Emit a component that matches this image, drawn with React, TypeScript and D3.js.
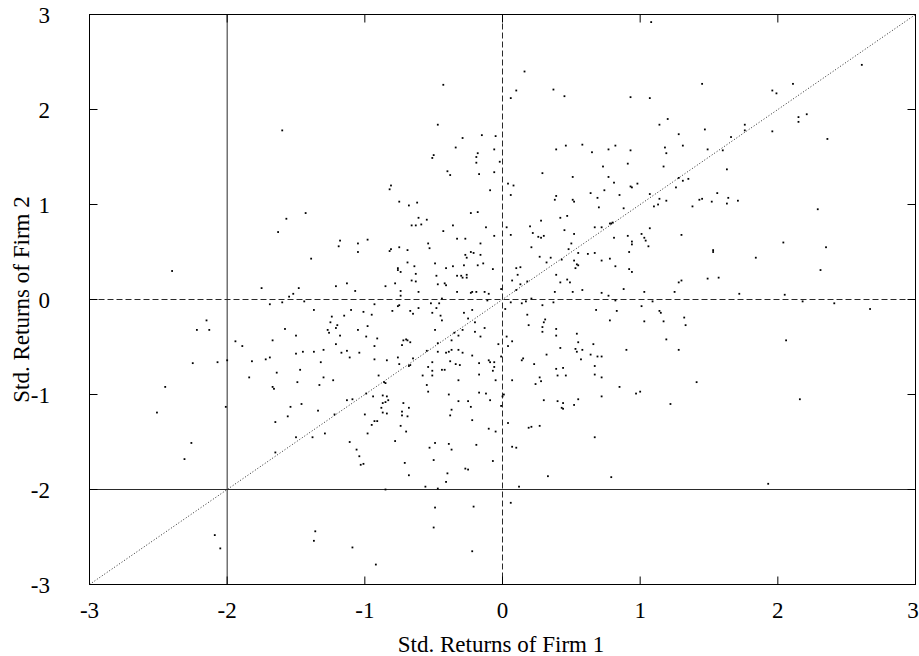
import React from 'react';
import * as d3 from 'd3';

const W = 919;
const H = 656;

const tickValues = [-3, -2, -1, 0, 1, 2, 3];
const tickLabels = ['-3', '-2', '-1', '0', '1', '2', '3'];
const xTitle = 'Std. Returns of Firm 1';
const yTitle = 'Std. Returns of Firm 2';
const thresholdLevel = -2;
const zeroLevel = 0;

// Standardised returns, firm 1 (x) and firm 2 (y)
const firm1 = [
  -1.60,
  -0.43, 0.16, 0.10, 0.06, 0.37, 0.45, 0.93, -0.47, -0.29, -0.15, -0.05, -0.34, -0.06, -0.18, -0.50, -0.51, -0.19, -0.19, -0.02, -0.40,
  -0.38, -0.17, -0.06, -0.09, -0.81, -0.82, -0.75, -0.68, -0.62, 0.04, 0.08, 0.06, 0.29, 0.39, 0.46, 0.58, 0.65, 0.77, 0.82, 0.93,
  0.51, 0.73, 0.77, 0.91, 0.81, 0.98, 0.93, 0.94, 0.74, 0.64, 0.69, 0.85, 0.39, 0.38, 0.51, 0.52,
  1.08, 2.61, 1.45, 2.11, 1.96, 1.99, 1.07, 2.21, 2.15, 2.15, 1.20, 1.14, 1.76, 1.76, 1.47, 1.96, 1.28, 1.66, 2.36, 1.18,
  1.19, 1.31, 1.49, 1.60, 1.17, 1.63, 1.28, 1.35, 1.31, 1.26, 1.07, 1.14, 1.19, 1.43, 1.45, 1.56, 1.64, 1.52, 1.71, 1.63, 1.13,
  -2.40, -1.57, -1.43, -1.63, -1.18, -1.19, -0.98, -1.05, -1.05, -1.39, -1.75, -1.48, -1.52, -1.55, -1.21, -1.13, -1.07, -1.69, -1.60, -1.44,
  -1.37, -1.10, -1.01, -1.24, -1.15, -1.25, -1.20, -1.21, -1.27, -1.26, -1.05, -0.98, -0.99, -1.18, -1.58, -1.50, -2.15, -2.22, -2.13, -1.94,
  -1.89, -1.67, -1.21, -1.30, -1.13, -1.17, -1.04, -1.11, -1.45, -1.37, -1.50, -1.69, -1.72, -1.82, -1.32, -2.00, -2.07, -2.25, -1.47, -1.64,
  -1.84, -1.30, -1.23, -1.49, -1.33, -1.67, -1.66, -2.45, -0.99,
  -0.61, -0.55, -0.66, -0.63, -0.59, -0.43, -0.36, -0.23, -0.18, -0.12, -0.06, -0.33, -0.27, -0.54, -0.53, -0.16, -0.75, -0.81, -0.82, -0.69,
  -0.23, -0.21, -0.27, -0.16, -0.26, -0.69, -0.49, -0.14, -0.18, -0.28, -0.36, -0.41, -0.64, -0.76, -0.76, -0.74, -0.63, -0.07, -0.48, -0.33,
  -0.30, -0.29, -0.26, -0.26, -0.66, -0.63, -0.42, -0.41, -0.47, -0.78, -0.85, -0.74, -0.74, -0.61, -0.33, -0.23, -0.22, -0.19, -0.13, -0.10,
  -0.01, -0.44, -0.11, -0.93, -0.76, -0.75, -0.52, -0.46, -0.61, -0.48, -0.80, -0.67, -0.65, -0.51, -0.22, -0.28, -0.45, -0.95, -0.25, -0.44,
  -0.49, -0.20, -0.13, -0.20, -0.29, -0.91, -0.70, -0.69, -0.67, -0.72, -0.35, -0.32, -0.16, -0.93, -0.73, -0.37, -0.47, -0.55, -0.47, -0.39,
  -0.37, -0.32, -0.29, -0.41, -0.22, -0.65, -0.76, -0.93, -0.84, -0.51, -0.38, -0.34, -0.31, -0.17, -0.10, -0.09, -0.06, -0.67, -0.75, -0.68,
  -0.54, -0.42, -0.44, -0.51, -0.06, -0.07, -0.58, -0.51, -0.17, -0.90, -0.86, -0.85, -0.32, -0.05, -0.55, -0.54, -0.39, -0.17, -0.12, 0.02,
  -0.01, -0.03, 0.01,
  0.03, 0.06, 0.20, 0.22, 0.28, 0.26, 0.28, 0.30, 0.42, 0.47, 0.45, 0.52, 0.70, 0.88, 0.67, 0.72, 0.78, 0.79, 0.80, 0.81,
  0.91, 1.01, 0.94, 0.94, 1.03, 0.21, 0.50, 0.48, 0.55, 0.62, 0.67, 0.72, 0.92, 0.27, 0.35, 0.32, 0.43, 0.52, 0.54, 0.53,
  0.55, 0.82, 0.78, 0.92, 0.94, 0.10, 0.13, 0.11, 0.07, 0.18, 0.13, 0.10, 0.39, 0.42, 0.47, 0.49, 0.58, 0.51, 0.38, 0.72,
  0.77, 0.88, 0.82, 1.03, 0.14, 0.17, 0.21, 0.29, 0.37, 0.06, 0.18, 0.31, 0.30, 0.68, 0.83, 0.78, 1.01, 1.03, 0.19, 0.29,
  0.29, 0.39, 0.39, 0.54, 0.55, 0.03, 0.07, 0.04, 0.42, 0.53, 0.54, 0.58, 0.66, 0.64, 0.69, 0.72, 0.90, 0.32, 0.57, 0.15,
  0.14, 0.23, 0.67, 0.39, 0.44, 0.40, 0.46, 0.67, 0.72, 0.27, 0.28, 0.24, 0.07, 0.85, 1.00,
  1.10, 1.38, 2.29, 1.07, 1.04, 1.06, 1.30, 1.53, 1.53, 2.04, 2.35, 1.84, 2.31, 1.28, 1.30, 1.49, 1.57, 1.25, 1.72, 2.05,
  1.09, 2.18, 2.41, 2.67, 1.14, 1.15, 1.32, 1.17, 1.33, 1.19, 2.06, 1.28, 1.41,
  -2.51, -2.01, -2.26, -2.31, -2.09, -2.05, -1.54, -1.46, -1.56, -1.34, -1.65, -1.13, -1.09, -1.22, -1.00, -1.50, -1.38, -1.29, -0.98, -1.11,
  -1.06, -1.04, -1.03, -1.01, -1.65, -1.36, -1.37, -1.09,
  -0.94, -0.87, -0.84, -0.87, -0.85, -0.83, -0.88, -0.87, -0.84, -0.93, -0.91, -0.95, -0.72, -0.68, -0.73, -0.73, -0.69, -0.74, -0.70, -0.78,
  -0.32, -0.25, -0.09, -0.37, -0.23, -0.38, -0.22, -0.10, -0.05, -0.01, 0.00, -0.49, -0.53, -0.39, -0.37, -0.19, -0.71, -0.50, -0.68, -0.40,
  -0.41, -0.27, -0.25, -0.07, -0.56, -0.47, -0.85, -0.49, -0.21, -0.50, -0.22, -0.92, 0.04, 0.07, 0.10, 0.12, 0.06, 0.19, 0.21, 0.27,
  0.30, 0.40, 0.44, 0.43, 0.44, 0.52, 0.55, 0.72, 0.97, 0.67, 0.33, 0.79,
  1.22, 2.16, 1.93,
];

const firm2 = [
  1.78,
  2.26, 2.40, 2.20, 2.12, 2.21, 2.14, 2.13, 1.84, 1.70, 1.73, 1.72, 1.60, 1.58, 1.54, 1.52, 1.49, 1.50, 1.44, 1.45, 1.35,
  1.31, 1.32, 1.34, 1.15, 1.20, 1.16, 1.03, 0.99, 1.02, 1.22, 1.20, 1.10, 1.33, 1.58, 1.62, 1.63, 1.55, 1.58, 1.62, 1.57,
  1.29, 1.40, 1.29, 1.43, 1.23, 1.22, 1.19, 1.18, 1.15, 1.12, 1.07, 1.10, 1.09, 1.05, 1.05, 1.03,
  2.92, 2.47, 2.27, 2.27, 2.20, 2.17, 2.12, 1.95, 1.92, 1.87, 1.90, 1.84, 1.84, 1.78, 1.79, 1.77, 1.74, 1.71, 1.69, 1.60,
  1.54, 1.62, 1.58, 1.57, 1.40, 1.37, 1.28, 1.27, 1.25, 1.18, 1.11, 1.06, 1.04, 1.05, 1.06, 1.12, 1.07, 1.03, 1.04, 1.01, 1.00,
  0.30, 0.85, 0.91, 0.71, 0.62, 0.56, 0.63, 0.59, 0.50, 0.43, 0.12, 0.12, 0.06, 0.03, 0.14, 0.17, 0.09, -0.05, -0.03, -0.02,
  -0.11, -0.11, -0.13, -0.18, -0.17, -0.24, -0.27, -0.30, -0.32, -0.35, -0.32, -0.28, -0.39, -0.38, -0.31, -0.38, -0.22, -0.32, -0.32, -0.44,
  -0.49, -0.43, -0.47, -0.53, -0.54, -0.56, -0.56, -0.61, -0.55, -0.55, -0.57, -0.61, -0.63, -0.65, -0.66, -0.64, -0.66, -0.67, -0.74, -0.77,
  -0.82, -0.82, -0.85, -0.87, -0.90, -0.92, -0.94, -0.92, -0.99,
  0.86, 0.84, 0.78, 0.78, 0.79, 0.72, 0.78, 0.91, 0.92, 0.76, 0.67, 0.64, 0.64, 0.59, 0.54, 0.59, 0.55, 0.53, 0.51, 0.52,
  0.50, 0.49, 0.47, 0.47, 0.44, 0.39, 0.38, 0.38, 0.36, 0.36, 0.35, 0.33, 0.35, 0.33, 0.31, 0.29, 0.27, 0.32, 0.25, 0.25,
  0.25, 0.23, 0.26, 0.23, 0.20, 0.19, 0.17, 0.15, 0.16, 0.17, 0.14, 0.09, 0.04, 0.08, 0.08, 0.07, 0.08, 0.08, 0.08, 0.06,
  0.11, 0.01, -0.01, -0.05, -0.07, -0.06, -0.04, -0.04, -0.09, -0.09, -0.12, -0.12, -0.15, -0.14, -0.11, -0.14, -0.17, -0.16, -0.20, -0.22,
  -0.32, -0.24, -0.30, -0.34, -0.32, -0.41, -0.42, -0.43, -0.45, -0.43, -0.35, -0.38, -0.39, -0.49, -0.48, -0.43, -0.46, -0.54, -0.55, -0.55,
  -0.53, -0.53, -0.56, -0.56, -0.59, -0.62, -0.61, -0.63, -0.64, -0.66, -0.65, -0.68, -0.69, -0.67, -0.64, -0.66, -0.66, -0.69, -0.68, -0.70,
  -0.71, -0.74, -0.74, -0.75, -0.71, -0.75, -0.80, -0.80, -0.79, -0.80, -0.87, -0.88, -0.85, -0.85, -0.90, -0.97, -1.00, -0.98, -0.99, -0.10,
  -0.60, -0.47, -1.00,
  0.76, 0.68, 0.77, 0.70, 0.83, 0.66, 0.65, 0.67, 0.86, 0.88, 0.73, 0.69, 0.97, 0.96, 0.76, 0.76, 0.80, 0.80, 0.81, 0.65,
  0.67, 0.69, 0.61, 0.58, 0.65, 0.55, 0.59, 0.53, 0.49, 0.48, 0.49, 0.41, 0.50, 0.45, 0.44, 0.39, 0.42, 0.41, 0.37, 0.33,
  0.36, 0.35, 0.43, 0.32, 0.29, 0.33, 0.34, 0.26, 0.20, 0.19, 0.16, 0.10, 0.26, 0.18, 0.21, 0.18, 0.10, 0.08, 0.08, 0.07,
  0.04, 0.11, -0.01, 0.08, -0.04, -0.02, 0.01, -0.06, -0.03, -0.03, -0.16, -0.21, -0.24, -0.11, -0.12, -0.22, -0.07, -0.23, -0.27, -0.29,
  -0.34, -0.31, -0.38, -0.36, -0.45, -0.39, -0.44, -0.49, -0.51, -0.52, -0.55, -0.53, -0.47, -0.58, -0.60, -0.60, -0.53, -0.58, -0.63, -0.62,
  -0.64, -0.68, -0.70, -0.73, -0.72, -0.80, -0.80, -0.79, -0.82, -0.82, -0.86, -0.89, -0.85, -0.92, -0.97,
  0.98, 0.98, 0.95, 0.75, 0.62, 0.56, 0.68, 0.52, 0.50, 0.60, 0.55, 0.44, 0.31, 0.18, 0.20, 0.22, 0.23, 0.08, 0.06, 0.05,
  -0.02, -0.02, -0.04, -0.10, -0.12, -0.14, -0.19, -0.23, -0.27, -0.42, -0.43, -0.53, -0.87,
  -1.19, -1.13, -1.51, -1.68, -2.48, -2.62, -1.13, -1.10, -1.23, -1.17, -1.29, -1.06, -1.05, -1.21, -1.21, -1.45, -1.45, -1.41, -1.41, -1.50,
  -1.58, -1.65, -1.74, -1.73, -1.61, -2.44, -2.54, -2.61,
  -1.02, -1.01, -1.02, -1.09, -1.08, -1.06, -1.14, -1.19, -1.20, -1.28, -1.28, -1.32, -1.09, -1.14, -1.18, -1.22, -1.23, -1.33, -1.39, -1.49,
  -1.07, -1.07, -1.06, -1.16, -1.13, -1.22, -1.27, -1.36, -1.39, -1.12, -1.02, -1.51, -1.56, -1.52, -1.58, -1.53, -1.72, -1.69, -1.85, -1.83,
  -1.92, -1.78, -1.79, -1.70, -1.97, -1.99, -2.00, -2.19, -2.18, -2.40, -2.65, -2.79, -1.30, -1.55, -1.56, -1.97, -2.14, -1.35, -1.34, -1.33,
  -1.06, -1.07, -1.09, -1.14, -1.15, -1.11, -1.05, -1.02, -0.99, -1.45, -1.86, -1.87,
  -1.10, -1.05, -1.94,
];

const FONT = "'Liberation Serif', 'Times New Roman', Times, serif";
const LINE = '#2a2a2a';

export default function App() {
  const x = d3.scaleLinear().domain([-3, 3]).range([89.5, 915.5]);
  const y = d3.scaleLinear().domain([-3, 3]).range([584.5, 14.5]);
  const [x0, x1] = x.range();
  const [y0, y1] = y.range();
  const tickLen = 8;
  const n = Math.min(firm1.length, firm2.length);
  const pts = d3.range(n).map((i) => [firm1[i], firm2[i]] as [number, number]);
  const diag = d3.line<[number, number]>()
    .x((d) => x(d[0]))
    .y((d) => y(d[1]))([[-3, -3], [3, 3]]) as string;

  return (
    <svg
      width={W}
      height={H}
      viewBox={`0 0 ${W} ${H}`}
      style={{ position: 'absolute', left: 0, top: 0, background: '#fff' }}
      fontFamily={FONT}
    >
      <rect x={0} y={0} width={W} height={H} fill="#fff" />

      {/* reference lines */}
      <line x1={x(thresholdLevel)} x2={x(thresholdLevel)} y1={y1} y2={y0} stroke={LINE} strokeWidth={1} />
      <line x1={x0} x2={x1} y1={y(thresholdLevel)} y2={y(thresholdLevel)} stroke={LINE} strokeWidth={1} />
      <line x1={x(zeroLevel)} x2={x(zeroLevel)} y1={y1} y2={y0} stroke={LINE} strokeWidth={1} strokeDasharray="6,3" />
      <line x1={x0} x2={x1} y1={y(zeroLevel)} y2={y(zeroLevel)} stroke={LINE} strokeWidth={1} strokeDasharray="6,3" />
      <path d={diag} stroke={LINE} strokeWidth={1} strokeDasharray="1,2" fill="none" />

      {/* points */}
      {pts.map((p, i) => (
        <rect key={i} x={x(p[0]) - 0.9} y={y(p[1]) - 0.9} width={1.8} height={1.8} fill="#000" />
      ))}

      {/* ticks (inward, mirrored) */}
      {tickValues.map((v) => (
        <g key={`t${v}`} stroke="#000" strokeWidth={1}>
          <line x1={x(v)} x2={x(v)} y1={y0} y2={y0 - tickLen} />
          <line x1={x(v)} x2={x(v)} y1={y1} y2={y1 + tickLen} />
          <line x1={x0} x2={x0 + tickLen} y1={y(v)} y2={y(v)} />
          <line x1={x1} x2={x1 - tickLen} y1={y(v)} y2={y(v)} />
        </g>
      ))}

      {/* frame */}
      <rect x={x0} y={y1} width={x1 - x0} height={y0 - y1} fill="none" stroke="#000" strokeWidth={1} />

      {/* tick labels */}
      {tickValues.map((v, i) => (
        <text key={`xl${v}`} x={Math.min(x(v), W - 6)} y={618} textAnchor="middle" fontSize={23} fill="#000">
          {tickLabels[i]}
        </text>
      ))}
      {tickValues.map((v, i) => (
        <text key={`yl${v}`} x={50} y={y(v) + 8} textAnchor="end" fontSize={23} fill="#000">
          {tickLabels[i]}
        </text>
      ))}

      {/* axis titles */}
      <text x={501} y={652} textAnchor="middle" fontSize={23} fill="#000">
        {xTitle}
      </text>
      <text
        transform={`translate(29, ${y(0)}) rotate(-90)`}
        textAnchor="middle"
        fontSize={23}
        fill="#000"
      >
        {yTitle}
      </text>
    </svg>
  );
}
